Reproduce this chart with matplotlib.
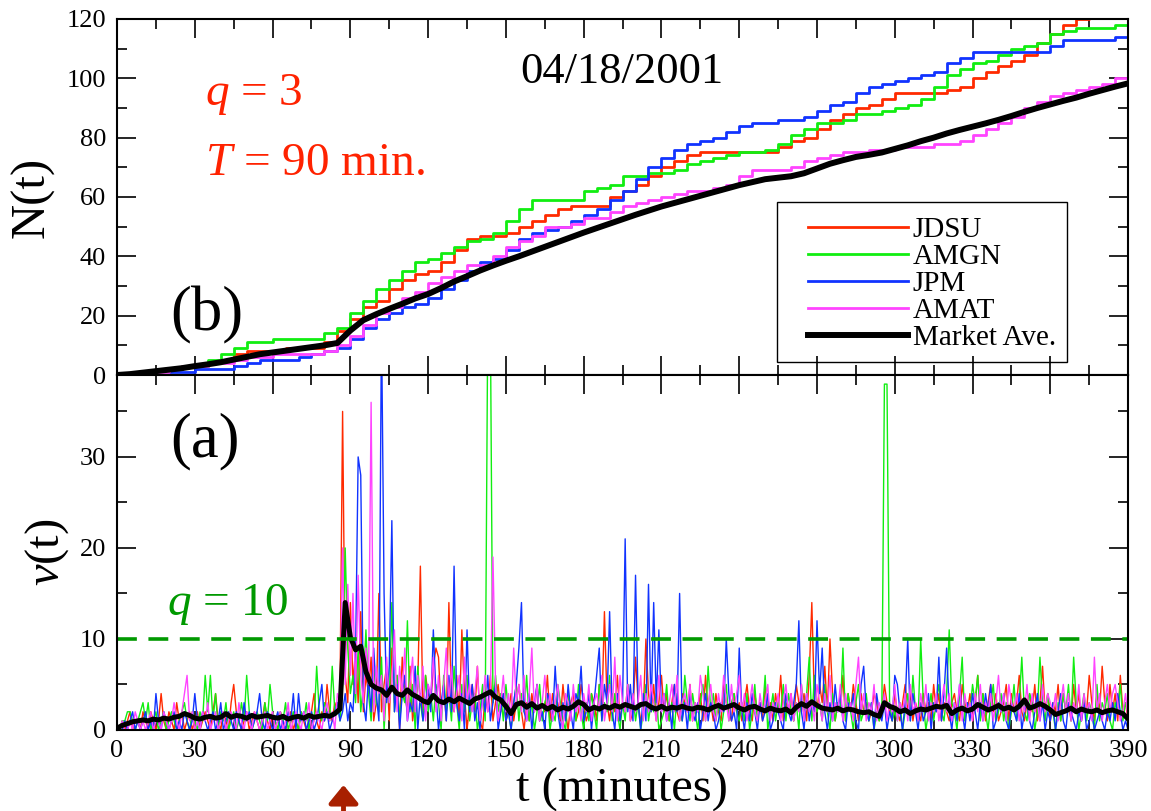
import numpy as np
import matplotlib
matplotlib.use("Agg")
import matplotlib.pyplot as plt
from matplotlib.ticker import MultipleLocator
from matplotlib.patches import Rectangle

plt.rcParams['font.family'] = 'serif'
plt.rcParams['font.serif'] = ['Liberation Serif', 'DejaVu Serif']
plt.rcParams['mathtext.fontset'] = 'custom'
plt.rcParams['mathtext.rm'] = 'Liberation Serif'
plt.rcParams['mathtext.it'] = 'Liberation Serif:italic'

# ---- panel (b): cumulative counts N(t), read every 5 minutes ----
t_n = np.arange(0, 391, 5)
n_jdsu = [0,0,0,1,2,3,3,4,5,7, 8,8,8,9,9,9,11,15,19,23,
          25,29,32,34,35,38,42,46,47,47, 48,50,52,54,56,57,57,57,60,62,
          64,67,70,72,74,75,75,75,75,75, 75,77,79,80,83,86,88,90,91,93,
          95,95,95,95,96,97,100,102,104,106, 108,112,115,118,120,122,123,124,125]
n_amgn = [0,0,1,1,2,3,3,5,7,9, 11,11,12,12,12,12,14,16,21,25,
          29,32,35,38,39,41,43,45,46,48, 52,56,59,59,59,59,62,63,64,67,
          67,68,68,69,71,72,73,74,75,75, 76,78,81,83,85,85,86,88,88,89,
          90,91,93,97,101,103,105,106,108,110, 111,112,115,116,117,117,117,118,118]
n_jpm = [0,0,0,0,1,1,2,2,2,3, 4,5,5,5,6,7,8,9,12,16,
         19,21,23,24,26,29,32,35,38,39, 42,46,48,49,50,52,54,56,59,62,
         66,70,73,76,78,79,80,82,84,85, 85,86,86,87,89,91,92,95,97,98,
         99,100,101,102,105,107,109,109,109,109, 109,109,111,113,113,113,113,114,114]
n_amat = [0,0,0,1,2,3,3,4,4,5, 6,6,7,7,7,7,8,10,13,17,
          21,23,26,28,31,33,35,37,37,40, 43,45,47,50,50,51,53,53,55,57,
          58,59,60,61,62,62,63,64,67,69, 69,69,70,72,73,74,75,75,76,76,
          77,77,77,78,78,79,81,83,85,87, 90,92,94,95,96,97,98,100,102]
n_market = [0,0.3,0.8,1.3,1.8,2.3,3.0,3.6,4.3,5.2,
            6.1,7.0,7.6,8.2,8.8,9.4,10.0,10.8,15.0,18.5,
            20.5,22.3,24.0,25.8,27.3,29.3,31.5,33.3,35.2,36.9,
            38.5,40.0,41.6,43.2,44.8,46.4,48.0,49.5,51.0,52.5,
            54.0,55.4,56.8,58.0,59.2,60.4,61.6,62.8,64.0,65.0,
            66.0,66.5,67.0,68.0,69.6,71.2,72.4,73.5,74.2,75.0,
            76.2,77.4,78.8,80.0,81.4,82.6,83.7,84.8,86.0,87.3,
            88.7,90.0,91.2,92.4,93.5,94.8,96.0,97.2,98.3]

# ---- panel (a): v(t) per minute, t = 1..390 ----
t_v = np.arange(1, 391)
v_jdsu = [0,1,0,1,2,0,1,1,0,2, 1,0,2,1,0,1,4,1,0,2, 1,0,3,1,2,0,1,2,0,1,
          2,0,1,2,1,0,2,4,1,0, 2,1,0,3,5,2,1,0,1,2, 0,1,2,1,0,1,3,1,0,2,
          1,0,2,1,0,1,2,0,1,0, 2,1,0,1,2,4,1,0,2,1, 5,2,1,3,2,4,35,6,3,14,
          5,9,3,13,2,6,4,8,1,3, 15,2,5,7,1,9,3,6,0,8, 4,2,7,1,3,5,18,2,6,4,
          3,7,9,8,2,5,1,14,3,2, 6,1,11,4,0,3,5,2,7,1, 0,4,2,6,1,3,5,2,4,1,
          2,4,1,3,5,2,0,3,1,4, 2,5,1,3,2,6,1,4,2,3, 1,5,2,0,3,4,1,2,5,3,
          1,2,4,3,1,5,2,13,3,1, 4,2,6,1,3,2,5,1,2,8, 3,1,2,10,4,2,5,1,3,6,
          2,4,1,3,5,2,1,4,3,2, 5,1,3,2,4,1,6,2,3,1, 4,2,1,5,3,2,1,4,2,3,
          1,3,5,2,1,4,2,3,1,5, 2,3,1,4,2,6,1,3,2,4, 1,5,3,2,4,1,6,14,3,2,
          5,3,7,2,10,4,1,3,2,6, 1,4,2,5,3,1,4,2,3,1, 2,4,3,1,2,5,3,2,1,4,
          2,1,3,5,2,4,1,3,2,1, 4,2,3,1,5,2,4,1,3,2, 1,3,4,2,1,5,3,2,4,1,
          3,6,2,4,1,3,5,2,4,1, 2,3,5,1,4,2,3,6,2,1, 3,4,2,5,1,3,7,2,4,1,
          3,2,5,1,4,2,3,1,5,2, 4,1,3,2,6,3,1,4,2,7, 3,1,5,2,4,1,6,2,3,1]
v_amgn = [0,1,1,2,2,1,0,1,2,3, 1,3,0,1,2,0,1,2,0,1, 2,1,0,1,2,3,1,0,2,1,
          0,2,1,6,2,6,1,4,0,2, 1,3,0,1,2,0,1,3,1,6, 2,0,1,2,1,0,3,1,5,2,
          1,0,2,1,3,0,1,2,1,0, 2,1,3,0,2,1,7,2,1,3, 2,1,7,2,3,1,5,20,9,4,
          6,3,9,2,5,11,4,1,7,3, 2,8,0,5,3,14,2,6,1,4, 3,12,2,5,0,7,3,1,6,2,
          4,1,5,3,0,6,2,4,1,7, 3,0,5,2,6,1,3,4,0,2, 5,1,45,45,3,6,2,4,1,5,
          2,0,3,5,1,4,2,6,1,3, 0,2,5,1,3,4,0,2,1,5, 3,1,0,4,2,3,1,5,2,0,
          3,1,4,2,0,5,1,3,2,6, 1,4,2,0,3,1,5,2,4,1, 3,0,2,5,1,3,2,4,0,1,
          2,5,1,3,0,4,2,1,6,3, 1,4,2,0,3,5,1,7,2,4, 1,3,0,2,5,1,3,4,2,1,
          3,1,4,0,2,5,1,3,2,6, 0,2,4,1,3,2,5,1,4,2, 1,3,0,5,2,4,8,1,6,2,
          3,1,5,2,0,4,1,3,2,9, 1,4,2,0,3,5,1,2,4,1, 3,0,2,1,2,38,38,3,1,2,
          1,3,0,2,4,1,6,2,1,10, 3,0,2,4,1,3,5,2,1,4, 11,3,2,0,4,8,1,3,2,5,
          3,6,1,4,2,0,3,5,1,2, 4,1,3,0,2,5,1,3,8,2, 1,4,3,0,2,8,3,1,4,2,
          2,0,3,1,4,2,5,1,8,3, 0,2,4,1,3,2,0,5,1,3, 2,4,1,0,3,2,5,1,3,2]
v_jpm = [0,0,1,0,1,2,0,1,0,1, 2,0,1,0,4,1,0,2,1,0, 1,2,0,1,0,2,1,0,1,4,
         1,0,2,1,0,1,2,0,1,3, 0,1,2,1,0,2,1,0,3,1, 2,0,1,2,4,1,0,2,1,0,
         1,2,0,1,0,2,1,4,0,4, 1,2,0,1,2,0,1,3,5,1, 2,0,1,2,3,1,2,4,1,3,
         2,8,30,28,3,1,6,2,9,4, 1,45,15,3,7,23,2,5,0,4, 6,1,3,2,7,0,4,1,3,5,
         2,11,4,0,3,5,1,6,2,18, 3,1,4,0,11,2,5,1,3,0, 4,2,6,1,3,5,0,2,4,1,
         2,0,3,5,9,14,2,1,4,0, 3,5,1,2,0,4,3,1,7,2, 0,3,1,5,2,0,4,3,7,1,
         2,4,0,3,6,9,1,5,3,13, 2,0,4,1,3,21,2,5,1,17, 3,0,4,1,16,2,14,3,11,2,
         4,1,3,0,5,2,15,1,3,0, 4,2,1,3,0,2,4,1,3,2, 0,1,3,2,10,4,1,2,0,9,
         2,0,3,1,4,2,0,3,1,2, 4,0,1,3,2,1,0,4,2,1, 3,5,12,2,0,4,1,3,2,12,
         4,9,2,0,3,1,5,2,4,1, 0,3,2,4,1,0,5,7,2,1, 3,0,4,2,1,3,0,2,1,6,
         5,2,0,3,10,1,4,2,0,3, 1,2,4,0,3,2,8,1,4,9, 2,0,3,1,5,2,0,3,1,4,
         2,0,3,1,4,2,5,0,1,3, 2,4,1,0,3,2,1,4,0,2, 3,1,0,2,4,1,3,0,2,1,
         3,0,2,4,1,0,3,2,1,0, 2,1,3,0,1,2,0,1,2,1, 0,2,1,3,1,4,2,0,1,0]
v_amat = [0,1,0,0,1,0,2,1,0,1, 0,1,2,0,1,1,0,2,1,0, 1,3,1,0,2,4,6,1,2,0,
          1,0,2,1,3,0,1,2,0,1, 2,0,1,2,1,0,3,1,0,2, 1,0,2,1,0,1,2,0,1,2,
          0,1,2,0,1,3,0,1,2,1, 0,2,1,3,0,1,2,1,0,2, 3,1,2,0,4,3,20,5,16,6,
          15,4,17,6,3,9,5,36,2,7, 4,6,1,8,3,5,11,2,7,4, 9,1,5,8,2,6,3,7,1,5,
          4,8,2,6,1,5,9,3,7,2, 4,6,1,8,3,5,2,4,7,1, 3,6,2,4,19,5,1,3,6,2,
          4,1,9,3,5,2,6,1,4,9, 2,5,1,3,6,2,4,1,3,5, 2,0,4,3,1,5,2,3,1,4,
          2,5,1,3,4,2,6,1,3,5, 2,8,1,6,3,2,5,1,4,2, 3,6,1,4,2,5,3,1,6,2,
          4,1,3,5,2,6,1,3,4,2, 5,1,3,2,6,4,1,3,5,2, 1,4,2,6,3,1,5,2,4,6,
          2,4,1,3,5,2,1,4,2,3, 5,1,3,2,4,1,3,5,2,4, 1,3,2,5,1,4,2,3,1,5,
          3,1,4,2,6,1,3,2,5,1, 4,2,3,1,5,8,2,4,1,3, 2,5,1,3,2,4,1,3,2,5,
          1,3,2,4,1,5,2,3,1,4, 2,5,1,3,2,4,1,3,5,2, 4,1,3,2,5,1,4,2,3,1,
          4,2,5,1,3,2,4,1,3,6, 2,4,1,5,3,2,4,1,3,2, 5,1,4,2,3,1,5,2,4,3,
          2,4,1,3,5,2,4,1,3,2, 5,1,4,2,3,1,8,2,4,1, 3,5,2,4,5,3,1,2,4,1]

# market average v(t), every 2 minutes
t_avg = np.arange(0, 391, 2)
v_market = [0.2,0.5,0.7,0.9,1.0,1.1,1.0,1.2,1.1,1.3,1.2,1.4,1.5,1.8,1.6,
            1.3,1.2,1.4,1.5,1.3,1.4,1.8,1.4,1.6,1.5,1.3,1.6,1.4,1.5,1.6,
            1.4,1.3,1.5,1.2,1.4,1.5,1.3,1.6,1.4,1.5,1.6,1.5,1.8,2.3,14.0,
            10.2,8.8,9.2,6.4,5.0,4.6,4.4,3.8,4.7,4.0,3.8,4.4,3.9,3.6,3.2,
            3.0,3.8,3.2,3.0,3.4,3.1,3.5,3.2,2.9,3.4,3.6,3.9,4.2,3.6,3.3,
            2.6,1.8,2.8,3.0,2.5,2.9,2.4,2.7,2.3,2.6,2.2,2.5,2.3,2.6,3.1,
            2.8,2.2,2.5,2.3,2.6,2.4,2.7,2.5,2.8,2.6,2.4,2.8,2.9,2.5,2.3,
            2.6,2.3,2.5,2.4,2.6,2.4,2.3,2.5,2.4,2.2,2.5,2.7,2.4,2.6,2.8,
            2.4,2.2,2.5,2.6,2.3,2.1,2.4,2.2,2.1,2.3,1.9,2.5,2.9,2.6,3.1,
            2.7,2.4,2.3,2.2,2.4,2.1,2.3,2.2,2.0,1.9,2.0,1.7,1.5,3.0,2.6,
            2.4,2.0,2.2,1.8,2.1,2.3,2.2,2.4,2.6,2.5,2.7,1.8,2.2,2.4,2.1,
            2.3,2.8,2.5,2.2,2.4,2.7,2.3,2.5,2.2,2.6,3.3,2.4,2.6,2.9,2.6,
            2.2,1.7,1.9,2.1,2.4,2.0,2.3,2.1,2.0,2.2,1.9,2.1,2.2,2.0,1.8,
            1.2]

names = ['JDSU', 'AMGN', 'JPM', 'AMAT']
colors = ['#ff2a00', '#11ee11', '#1133ff', '#ff44ff']

fig = plt.figure(figsize=(11.51, 8.11), dpi=100)
ax_top = fig.add_axes([0.1017, 0.5376, 0.8784, 0.4390])
ax_bot = fig.add_axes([0.1017, 0.0999, 0.8784, 0.4377])

for n, name, c in zip([n_jdsu, n_amgn, n_jpm, n_amat], names, colors):
    ax_top.plot(t_n, n, color=c, lw=2.0, drawstyle='steps-post', label=name)
ax_top.plot(t_n, n_market, color='black', lw=4.3, label='Market Ave.')

for v, c in zip([v_jdsu, v_amgn, v_jpm, v_amat], colors):
    ax_bot.plot(t_v, v, color=c, lw=1.0)
ax_bot.plot(t_avg, v_market, color='black', lw=3.6)
ax_bot.plot([0, 390], [10, 10], color='#009900', lw=2.6, ls=(0, (5.5, 3.2)))

for ax in (ax_top, ax_bot):
    ax.set_xlim(0, 390)
    ax.xaxis.set_major_locator(MultipleLocator(30))
    ax.xaxis.set_minor_locator(MultipleLocator(15))
    ax.tick_params(which='both', direction='in', top=True, right=True,
                   width=1.2, labelsize=19)
    ax.tick_params(which='major', length=14)
    ax.tick_params(which='minor', length=7)
    ax.tick_params(axis='y', pad=8)
    ax.tick_params(axis='x', pad=7)
    for s in ax.spines.values():
        s.set_linewidth(1.5)

ax_top.set_ylim(0, 120)
ax_top.yaxis.set_major_locator(MultipleLocator(20))
ax_top.yaxis.set_minor_locator(MultipleLocator(10))
ax_top.tick_params(axis='x', labelbottom=False)

ax_bot.set_ylim(0, 39)
ax_bot.yaxis.set_major_locator(MultipleLocator(10))
ax_bot.yaxis.set_minor_locator(MultipleLocator(5))

# legend: entries without frame, box drawn separately
leg = ax_top.legend(loc='upper left', bbox_to_anchor=(0.6835, 0.445),
                    fontsize=21, frameon=False, handlelength=3.42,
                    handletextpad=0.17, labelspacing=0.02, borderpad=0,
                    borderaxespad=0)
ax_top.add_patch(Rectangle((0.6528, 0.0365), 0.2868, 0.4494, transform=ax_top.transAxes,
                           fill=False, edgecolor='black', lw=1.0, zorder=5))

ax_top.text(194.8, 102, '04/18/2001', ha='center', va='center', fontsize=32)
ax_top.text(34, 91, r'$q$ = 3', color='#ff2200', fontsize=34, va='baseline')
ax_top.text(34, 67.4, r'$T$ = 90 min.', color='#ff2200', fontsize=34, va='baseline')
ax_top.text(20.5, 15, '(b)', fontsize=45, va='baseline')
ax_bot.text(20.5, 30, '(a)', fontsize=45, va='baseline')
ax_bot.text(19.3, 12.6, r'$q$ = 10', color='#009900', fontsize=34, va='baseline')

fig.text(33 / 1151, 1 - 197 / 811, 'N(t)', rotation=90, ha='center', va='center', fontsize=35)
fig.text(47 / 1151, 1 - 552 / 811, r'$\nu$(t)', rotation=90, ha='center', va='center', fontsize=35)
fig.text(622 / 1151, 1 - 790 / 811, 't (minutes)', ha='center', va='center', fontsize=35)

ax_bot.annotate('', xy=(343.5 / 1151, 1 - 785 / 811), xytext=(343.5 / 1151, -0.02),
                xycoords='figure fraction', textcoords='figure fraction',
                annotation_clip=False,
                arrowprops=dict(arrowstyle='-|>,head_length=0.55,head_width=0.45',
                                color='#a82000', lw=3.5, mutation_scale=20,
                                shrinkA=0, shrinkB=0))

fig.savefig('out.png', dpi=100)
